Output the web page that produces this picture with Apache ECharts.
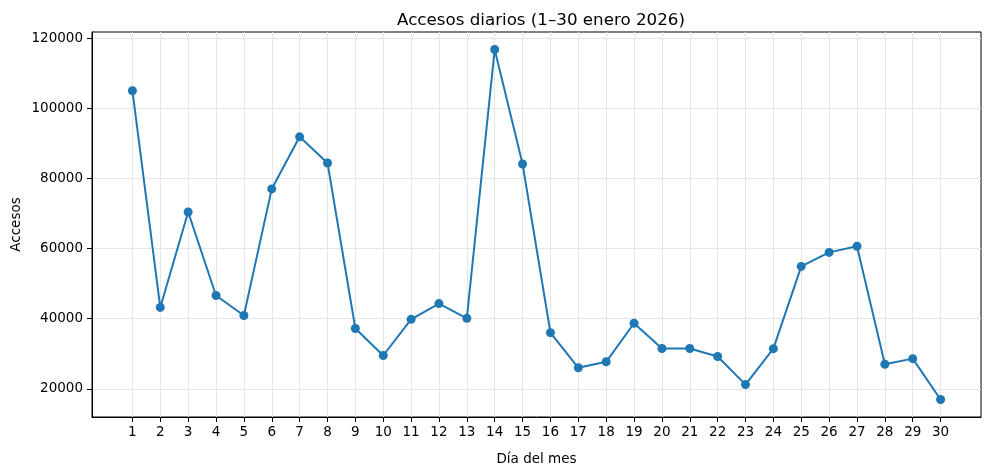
<!DOCTYPE html>
<html>
<head>
<meta charset="utf-8">
<script src="https://cdn.jsdelivr.net/npm/echarts@6/dist/echarts.min.js"></script>
<style>html,body{margin:0;padding:0;background:#fff}#c{width:989px;height:470px}</style>
</head>
<body>
<div id="c"></div>
<script>
const days = [1,2,3,4,5,6,7,8,9,10,11,12,13,14,15,16,17,18,19,20,21,22,23,24,25,26,27,28,29,30];
const accesos = [105000,43200,70400,46600,40900,77000,91850,84400,37200,29500,39800,44300,40100,116750,84100,36000,26000,27700,38700,31500,31500,29200,21200,31450,54900,58900,60650,27000,28600,16950];
const yTicks = [20000,40000,60000,80000,100000,120000];

const chart = echarts.init(document.getElementById('c'), null, {renderer:'canvas'});
const font = 'DejaVu Sans';
chart.setOption({
  animation:false,
  backgroundColor:'#fff',
  title:{text:'Accesos diarios (1–30 enero 2026)', left:536, top:7, textAlign:'center',
    textStyle:{fontFamily:font, fontSize:16.7, fontWeight:'normal', color:'#000'}},
  grid:{left:92, right:8, top:32, bottom:53, show:true, borderColor:'#000', borderWidth:1,
    containLabel:false, outerBoundsMode:'none'},
  xAxis:{type:'value', min:-0.45, max:31.45,
    name:'Día del mes', nameLocation:'middle', nameGap:35, nameMoveOverlap:false,
    nameTextStyle:{fontFamily:font, fontSize:13.5, color:'#000'},
    axisLine:{show:true, onZero:false, lineStyle:{color:'#000', width:1}},
    axisTick:{show:true, length:5, lineStyle:{color:'#000'}, customValues:days},
    axisLabel:{fontFamily:font, fontSize:13.5, color:'#000', margin:8, customValues:days},
    splitLine:{show:true, lineStyle:{color:'#e5e5e5', width:1}}
  },
  yAxis:{type:'value', min:11960, max:121740,
    name:'Accesos', nameLocation:'middle', nameGap:69, nameRotate:90, nameMoveOverlap:false,
    nameTextStyle:{fontFamily:font, fontSize:13.5, color:'#000'},
    axisLine:{show:true, onZero:false, lineStyle:{color:'#000', width:1}},
    axisTick:{show:true, length:5, lineStyle:{color:'#000'}, customValues:yTicks},
    axisLabel:{fontFamily:font, fontSize:13.5, color:'#000', margin:9, customValues:yTicks,
      formatter:v=>String(v)},
    splitLine:{show:true, lineStyle:{color:'#e5e5e5', width:1}}
  },
  series:[{type:'line', data:days.map((d,i)=>[d,accesos[i]]),
    symbol:'circle', symbolSize:9,
    lineStyle:{color:'#1f77b4', width:2},
    itemStyle:{color:'#1f77b4'}}]
});
</script>
</body>
</html>
